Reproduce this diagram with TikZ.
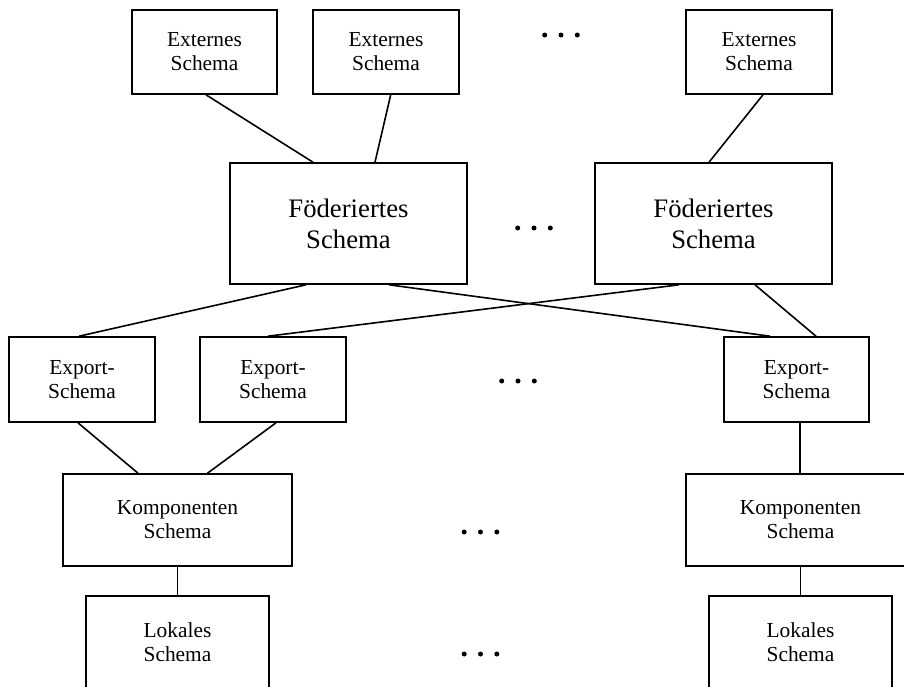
\documentclass[tikz,border=0pt]{standalone}
\usepackage{fontspec}
\setmainfont{Liberation Serif}
\begin{document}
\begin{tikzpicture}[x=1pt,y=-1pt,
  box/.style={draw, line width=1.6pt, inner sep=0pt, align=center},
  smallbox/.style={box, font=\fontsize{21.4}{24}\selectfont},
  largebox/.style={box, font=\fontsize{26.7}{31}\selectfont},
  link/.style={line width=1.6pt},
  ellipsisdot/.style={fill=black}]
\useasboundingbox (0,0) rectangle (904,686);

% external schemas
\node[smallbox, minimum width=145pt, minimum height=84pt] (ext1) at (204.5,52) {Externes\\Schema};
\node[smallbox, minimum width=146pt, minimum height=84pt] (ext2) at (386,52) {Externes\\Schema};
\node[smallbox, minimum width=146pt, minimum height=84pt] (ext3) at (759,52) {Externes\\Schema};

% federated schemas
\node[largebox, minimum width=237pt, minimum height=121pt] (fed1) at (348.5,223.5) {Föderiertes\\Schema};
\node[largebox, minimum width=237pt, minimum height=121pt] (fed2) at (713.5,223.5) {Föderiertes\\Schema};

% export schemas
\node[smallbox, minimum width=146pt, minimum height=85pt] (exp1) at (82,379.5) {Export-\\Schema};
\node[smallbox, minimum width=146pt, minimum height=85pt] (exp2) at (273,379.5) {Export-\\Schema};
\node[smallbox, minimum width=145pt, minimum height=85pt] (exp3) at (796.5,379.5) {Export-\\Schema};

% component schemas
\node[smallbox, minimum width=229pt, minimum height=92pt] (comp1) at (177.5,520) {Komponenten\\Schema};
\node[smallbox, minimum width=229pt, minimum height=92pt] (comp2) at (800.5,520) {Komponenten\\Schema};

% local schemas
\node[smallbox, minimum width=183pt, minimum height=93pt] (loc1) at (177.5,642.5) {Lokales\\Schema};
\node[smallbox, minimum width=183pt, minimum height=93pt] (loc2) at (800.5,642.5) {Lokales\\Schema};

% connections
\draw[link] ([xshift=1.5pt]ext1.south) -- ([xshift=-35.5pt]fed1.north);
\draw[link] ([xshift=4.7pt]ext2.south) -- ([xshift=26.5pt]fed1.north);
\draw[link] ([xshift=4pt]ext3.south) -- ([xshift=-4.5pt]fed2.north);
\draw[link] ([xshift=-42.5pt]fed1.south) -- ([xshift=-3pt]exp1.north);
\draw[link] ([xshift=40.5pt]fed1.south) -- ([xshift=-26.5pt]exp3.north);
\draw[link] ([xshift=-34.5pt]fed2.south) -- ([xshift=-5pt]exp2.north);
\draw[link] ([xshift=41.5pt]fed2.south) -- ([xshift=19.5pt]exp3.north);
\draw[link] ([xshift=-4pt]exp1.south) -- ([xshift=-39.5pt]comp1.north);
\draw[link] ([xshift=3pt]exp2.south) -- ([xshift=30pt]comp1.north);
\draw[link] ([xshift=3.5pt]exp3.south) -- ([xshift=-0.5pt]comp2.north);
\draw[link] (comp1.south) -- (loc1.north);
\draw[link] (comp2.south) -- (loc2.north);

% ellipses between the repeated boxes
\foreach \cx/\cy in {561/35, 534/228, 518/381, 480.5/532, 480.5/654}
  \foreach \dx in {-16.3,0,16.3}
    \fill[ellipsisdot] (\cx+\dx,\cy) circle (2.5pt);
\end{tikzpicture}
\end{document}
